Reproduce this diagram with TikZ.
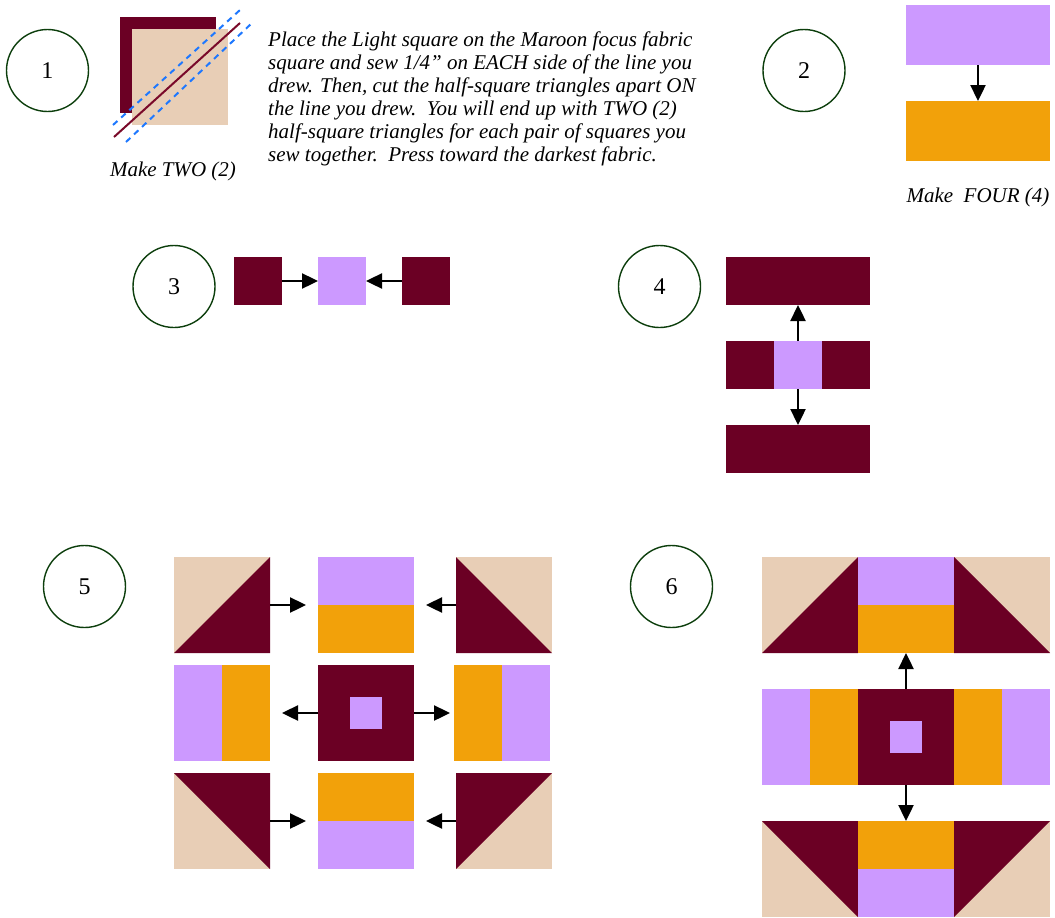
\documentclass[tikz,border=0pt]{standalone}
\usepackage{fontspec}
\setmainfont{Liberation Serif}
\usepackage{xcolor}
\usetikzlibrary{positioning, arrows.meta, calc}

\definecolor{maroon}{RGB}{107,0,36}
\definecolor{lilac}{RGB}{204,153,255}
\definecolor{gold}{RGB}{242,161,10}
\definecolor{sand}{RGB}{232,206,182}
\definecolor{ringgreen}{RGB}{12,62,12}
\definecolor{cutred}{RGB}{122,10,42}
\definecolor{seamblue}{RGB}{30,120,255}

\tikzset{
  patch/.style={draw=none, inner sep=0pt, outer sep=0pt, minimum width=48pt, minimum height=48pt},
  block/.style={patch, minimum width=96pt, minimum height=96pt},
  stepring/.style={circle, draw=ringgreen, line width=1.4pt, minimum size=82pt, inner sep=0pt,
    font=\fontsize{24}{24}\selectfont},
  push/.style={-{Triangle[length=16pt, width=15pt]}, line width=2.4pt},
  note/.style={font=\itshape\fontsize{21}{23}\selectfont, align=left, inner sep=0pt},
}

\begin{document}
\begin{tikzpicture}[x=1pt, y=-1pt]
    \useasboundingbox (0,0) rectangle (1055,918);

    % =========================================================================
    % STEP 1: Half-square triangles
    % =========================================================================
    \node[stepring] (ring1) at (47.5,70.5) {1};
    \node[block, fill=maroon] (dark1) at (168,65) {};
    \node[block, fill=sand] (light1) at (180,77) {};

    % Cut line and seam lines
    \coordinate (cutA) at (114,137);
    \coordinate (cutB) at (240,23);
    \draw[cutred, line width=2pt] (cutA) -- (cutB);
    \draw[seamblue, line width=2pt, dash pattern=on 6pt off 5pt] (113,125) -- (240,10);
    \draw[seamblue, line width=2pt, dash pattern=on 6pt off 5pt] (126,142) -- (252,23);

    \node[note, anchor=base] (make1) at (173,176) {Make TWO (2)};

    \node[note, anchor=north west] (text1) at (268,32) {%
        Place the Light square on the Maroon focus fabric\\
        square and sew 1/4” on EACH side of the line you\\
        drew. Then, cut the half-square triangles apart ON\\
        the line you drew.\ \ You will end up with TWO (2)\\
        half-square triangles for each pair of squares you\\
        sew together.\ \ Press toward the darkest fabric.};

    % =========================================================================
    % STEP 2: Two strips
    % =========================================================================
    \node[stepring] (ring2) at (804,70.5) {2};
    \node[patch, fill=lilac, minimum width=144pt, minimum height=60pt] (lilac2) at (978,35) {};
    \node[patch, fill=gold, minimum width=144pt, minimum height=60pt] (gold2) at (978,131) {};
    \draw[push] (lilac2.south) -- (gold2.north);
    \node[note, anchor=base] (make2) at (978,202) {Make\ \ FOUR (4)};

    % =========================================================================
    % STEP 3: Center row
    % =========================================================================
    \node[stepring] (ring3) at (174,286.5) {3};
    \node[patch, fill=maroon] (left3) at (258,281) {};
    \node[patch, fill=lilac] (mid3) at (342,281) {};
    \node[patch, fill=maroon] (right3) at (426,281) {};
    \draw[push] (left3.east) -- (mid3.west);
    \draw[push] (right3.west) -- (mid3.east);

    % =========================================================================
    % STEP 4: Center block
    % =========================================================================
    \node[stepring] (ring4) at (659.5,286.5) {4};
    \node[patch, fill=maroon, minimum width=144pt] (top4) at (798,281) {};
    \node[patch, fill=maroon] (left4) at (750,365) {};
    \node[patch, fill=lilac] (mid4) at (798,365) {};
    \node[patch, fill=maroon] (right4) at (846,365) {};
    \node[patch, fill=maroon, minimum width=144pt] (bot4) at (798,449) {};
    \draw[push] (mid4.north) -- (top4.south);
    \draw[push] (mid4.south) -- (bot4.north);

    % =========================================================================
    % STEP 5: Layout
    % =========================================================================
    \node[stepring] (ring5) at (84.5,586.5) {5};

    % Top row
    \node[block, fill=sand] (tl5) at (222,605) {};
    \fill[maroon] (tl5.south west) -- (tl5.north east) -- (tl5.south east) -- cycle;
    \node[block, fill=lilac] (tm5) at (366,605) {};
    \node[patch, fill=gold, minimum width=96pt] at (366,629) {};
    \node[block, fill=sand] (tr5) at (504,605) {};
    \fill[maroon] (tr5.north west) -- (tr5.south east) -- (tr5.south west) -- cycle;

    % Middle row
    \node[block, fill=gold] (ml5) at (222,713) {};
    \node[patch, fill=lilac, minimum height=96pt] at (198,713) {};
    \node[block, fill=maroon] (mm5) at (366,713) {};
    \node[patch, fill=lilac, minimum size=32pt] at (mm5) {};
    \node[block, fill=lilac] (mr5) at (502,713) {};
    \node[patch, fill=gold, minimum height=96pt] at (478,713) {};

    % Bottom row
    \node[block, fill=sand] (bl5) at (222,821) {};
    \fill[maroon] (bl5.north west) -- (bl5.north east) -- (bl5.south east) -- cycle;
    \node[block, fill=lilac] (bm5) at (366,821) {};
    \node[patch, fill=gold, minimum width=96pt] at (366,797) {};
    \node[block, fill=sand] (br5) at (504,821) {};
    \fill[maroon] (br5.north west) -- (br5.north east) -- (br5.south west) -- cycle;

    % Arrows
    \draw[push, shorten >=12pt] (tl5.east) -- (tm5.west);
    \draw[push, shorten >=12pt] (tr5.west) -- (tm5.east);
    \draw[push, shorten >=12pt] (mm5.west) -- (ml5.east);
    \draw[push, shorten >=4pt] (mm5.east) -- (mr5.west);
    \draw[push, shorten >=12pt] (bl5.east) -- (bm5.west);
    \draw[push, shorten >=12pt] (br5.west) -- (bm5.east);

    % =========================================================================
    % STEP 6: Finished block
    % =========================================================================
    \node[stepring] (ring6) at (671.5,586.5) {6};

    % Top row
    \node[block, fill=sand] (tl6) at (810,605) {};
    \fill[maroon] (tl6.south west) -- (tl6.north east) -- (tl6.south east) -- cycle;
    \node[block, fill=lilac] (tm6) at (906,605) {};
    \node[patch, fill=gold, minimum width=96pt] at (906,629) {};
    \node[block, fill=sand] (tr6) at (1002,605) {};
    \fill[maroon] (tr6.north west) -- (tr6.south east) -- (tr6.south west) -- cycle;

    % Middle row
    \node[block, fill=gold] (ml6) at (810,737) {};
    \node[patch, fill=lilac, minimum height=96pt] at (786,737) {};
    \node[block, fill=maroon] (mm6) at (906,737) {};
    \node[patch, fill=lilac, minimum size=32pt] at (mm6) {};
    \node[block, fill=lilac] (mr6) at (1002,737) {};
    \node[patch, fill=gold, minimum height=96pt] at (978,737) {};

    % Bottom row
    \node[block, fill=sand] (bl6) at (810,869) {};
    \fill[maroon] (bl6.north west) -- (bl6.north east) -- (bl6.south east) -- cycle;
    \node[block, fill=lilac] (bm6) at (906,869) {};
    \node[patch, fill=gold, minimum width=96pt] at (906,845) {};
    \node[block, fill=sand] (br6) at (1002,869) {};
    \fill[maroon] (br6.north west) -- (br6.north east) -- (br6.south west) -- cycle;

    % Arrows
    \draw[push] (mm6.north) -- (tm6.south);
    \draw[push] (mm6.south) -- (bm6.north);

\end{tikzpicture}
\end{document}
